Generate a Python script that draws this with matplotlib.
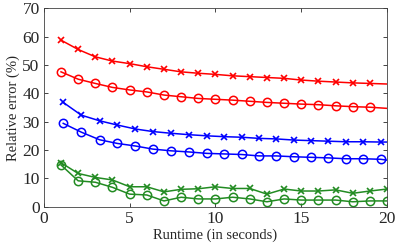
import matplotlib
matplotlib.use("Agg")
import matplotlib.pyplot as plt

plt.rcParams['font.family'] = ['Liberation Serif', 'DejaVu Serif']

# runtime (seconds) for each series
t_red = [1, 2, 3, 4, 5, 6, 7, 8, 9, 10, 11, 12, 13, 14, 15, 16, 17, 18, 19, 20]
t_blue = [1.13, 2.18, 3.25, 4.29, 5.34, 6.36, 7.41, 8.45, 9.49, 10.5, 11.52,
          12.53, 13.55, 14.57, 15.58, 16.58, 17.6, 18.62, 19.63, 20]
t_green = [1, 2, 3, 4, 5, 6, 7, 8, 9, 10, 11, 12, 13, 14, 15, 16, 17, 18, 19, 20]

# relative error (%)
red_x = [58.8, 55.5, 52.9, 51.4, 50.5, 49.4, 48.5, 47.6, 47.1, 46.7, 46.2, 45.9,
         45.6, 45.3, 44.7, 44.3, 44.0, 43.7, 43.5, 43.3]
red_o = [47.6, 45.0, 43.5, 42.1, 41.2, 40.5, 39.4, 38.8, 38.2, 37.9, 37.6, 37.2,
         36.8, 36.5, 36.2, 36.0, 35.6, 35.3, 35.1, 34.7]
blue_x = [36.8, 32.3, 30.3, 28.8, 27.4, 26.5, 25.9, 25.4, 25.0, 24.7, 24.5, 24.1,
          23.9, 23.5, 23.3, 23.1, 22.9, 22.9, 22.8, 22.8]
blue_o = [29.4, 26.3, 23.6, 22.3, 21.4, 20.3, 19.7, 19.3, 18.8, 18.6, 18.4, 17.9,
          17.9, 17.6, 17.4, 17.2, 16.9, 16.9, 16.7, 16.4]
green_x = [15.5, 11.7, 10.3, 9.4, 7.0, 7.0, 5.2, 6.1, 6.3, 7.0, 6.4, 6.4, 4.4, 6.2,
           5.5, 5.5, 5.9, 4.7, 5.5, 6.2]
green_o = [14.7, 9.1, 8.6, 6.8, 4.4, 4.1, 2.0, 3.3, 2.7, 2.7, 3.3, 2.7, 1.7, 2.7,
           2.3, 2.3, 2.3, 1.7, 2.0, 2.0]

green = '#228b22'

fig = plt.figure(figsize=(3.95, 2.48), dpi=100)
ax = fig.add_axes([0.111, 0.167, 0.869, 0.799])

ax.plot(t_red, red_x, color='red', lw=1.1, marker='x', ms=5, mew=1.2, markevery=range(19))
ax.plot(t_red, red_o, color='red', lw=1.1, marker='o', ms=6, mfc='none', mew=1.1, markevery=range(19))
ax.plot(t_blue, blue_x, color='blue', lw=1.1, marker='x', ms=5, mew=1.2, markevery=range(19))
ax.plot(t_blue, blue_o, color='blue', lw=1.1, marker='o', ms=6, mfc='none', mew=1.1, markevery=range(19))
ax.plot(t_green, green_x, color=green, lw=1.1, marker='x', ms=5, mew=1.2)
ax.plot(t_green, green_o, color=green, lw=1.1, marker='o', ms=6, mfc='none', mew=1.1)

ax.set_xlim(0, 20)
ax.set_ylim(0, 70)
ax.set_xticks([0, 5, 10, 15, 20])
ax.set_yticks(range(0, 71, 10))
ax.tick_params(direction='in', top=True, right=True, length=3, width=0.6,
               labelsize=12.5, colors='#262626', pad=3)
for s in ax.spines.values():
    s.set_linewidth(0.6)
    s.set_color('#404040')

ax.set_xlabel('Runtime (in seconds)', fontsize=10.5, color='#262626', labelpad=1)
ax.set_ylabel('Relative error (%)', fontsize=10.5, color='#262626', labelpad=2)

fig.savefig('out.png', dpi=100)
